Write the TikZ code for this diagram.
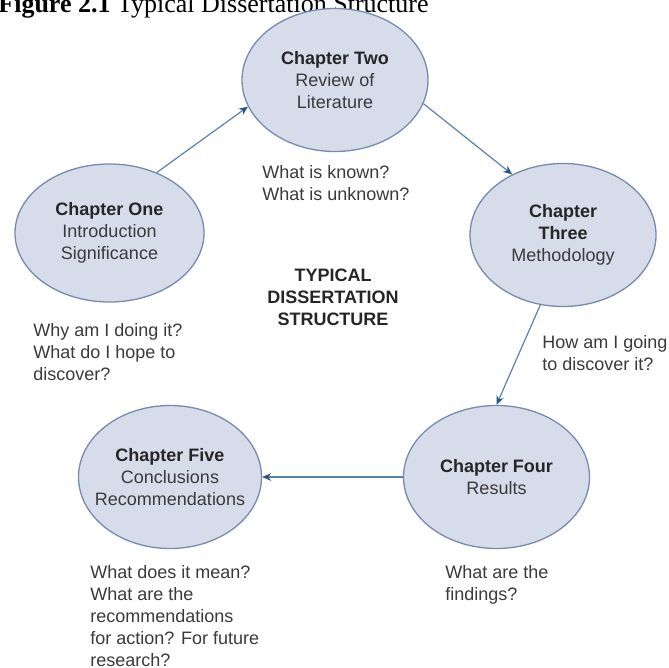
\documentclass[tikz,border=0pt]{standalone}
\usepackage{fontspec}
\setmainfont{Liberation Sans}
\newfontfamily\titlefont{Liberation Serif}
\usetikzlibrary{arrows.meta,shapes.geometric}
\definecolor{chapfill}{RGB}{214,220,234}
\definecolor{chapedge}{RGB}{118,139,173}
\definecolor{linkblue}{RGB}{92,128,176}
\definecolor{tipblue}{RGB}{40,84,140}
\definecolor{notegray}{RGB}{58,58,58}
\begin{document}
\begin{tikzpicture}[x=0.5pt,y=-0.5pt,
    chap/.style={ellipse,draw=chapedge,line width=0.65pt,fill=chapfill,minimum width=93pt,minimum height=71.5pt,inner xsep=-6pt,inner ysep=0pt,align=center,font=\fontsize{9}{11}\selectfont,text=notegray},
    note/.style={anchor=north west,inner sep=0pt,align=left,font=\fontsize{9}{11}\selectfont,text=notegray},
    link/.style={draw=linkblue,line width=0.6pt,-{Stealth[length=4.5pt,width=3.8pt,color=tipblue]}}]
    \useasboundingbox (0,0) rectangle (668,668);
    \clip (0,0) rectangle (668,668);
    \node[anchor=base west,inner sep=0pt,font=\titlefont\fontsize{13}{15}\selectfont] (title) at (-2,13) {\textbf{Figure 2.1} Typical Dissertation Structure};
    \node[chap,minimum width=94.5pt,minimum height=69pt] (ch1) at (109.5,233) {\textbf{\color{black!85}Chapter One}\\Introduction\\Significance};
    \node[chap] (ch2) at (335,80) {\textbf{\color{black!85}Chapter Two}\\Review of\\Literature};
    \node[chap] (ch3) at (563,235) {\textbf{\color{black!85}Chapter}\\\textbf{\color{black!85}Three}\\Methodology};
    \node[chap] (ch4) at (496.5,477) {\textbf{\color{black!85}Chapter Four}\\Results};
    \node[chap,minimum width=91.5pt] (ch5) at (170,477) {\textbf{\color{black!85}Chapter Five}\\Conclusions\\Recommendations};
    \node[inner sep=0pt,align=center,font=\fontsize{9}{11}\selectfont\bfseries,text=black!85] (centre) at (333,297.5) {TYPICAL\\DISSERTATION\\STRUCTURE};
    \node[note] (knownnote) at (262,165.5) {What is known?\\What is unknown?};
    \node[note] (whynote) at (33,323.5) {Why am I doing it?\\What do I hope to\\discover?};
    \node[note] (hownote) at (542,335.5) {How am I going\\to discover it?};
    \node[note] (findnote) at (445,565.5) {What are the\\findings?};
    \node[note] (meannote) at (90,565.5) {What does it mean?\\What are the\\recommendations\\for action? For future\\research?};
    \draw[link] (ch1.52) -- (ch2.197);
    \draw[link] (ch2.345) -- (ch3.130);
    \draw[link] (ch3.252) -- (ch4.north);
    \draw[link] (ch4.west) -- (ch5.east);
\end{tikzpicture}
\end{document}
